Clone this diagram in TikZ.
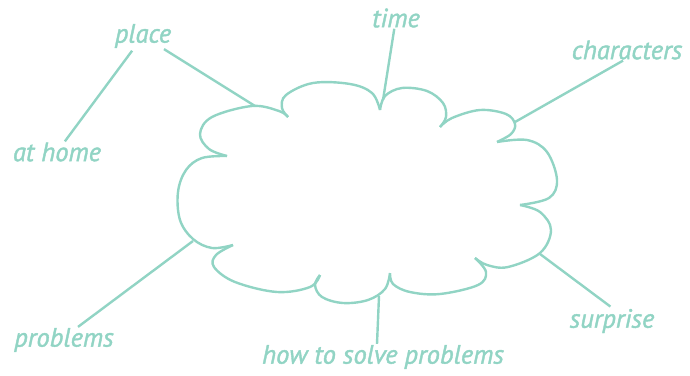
\documentclass[tikz,border=0pt]{standalone}
\usepackage{fontspec}
\setmainfont{PT Sans}
\newfontfamily\lblfont[ItalicFeatures={FakeBold=1.5}]{PT Sans}
\usetikzlibrary{positioning}

\definecolor{cloudc}{RGB}{145,212,196}

\tikzset{
  lbl/.style={text=cloudc, inner sep=1pt, font=\fontsize{26.5}{30}\lblfont\itshape},
  link/.style={draw=cloudc, line width=2.4pt},
  lobe/.style={draw=cloudc, line width=2.4pt, smooth, tension=0.6}
}

\begin{document}
\begin{tikzpicture}[x=1pt,y=-1pt]
\useasboundingbox (0,0) rectangle (690,375);

%cloud lobes, clockwise from the top one
\draw [lobe] plot coordinates {(288,117) (282,108) (286,95) (313,83) (350,84) (372,93) (380,110)};
\draw [lobe] plot coordinates {(380,110) (385,96) (402,88) (427,91) (443,103) (446,117) (440,127)};
\draw [lobe] plot coordinates {(440,127) (452,118) (480,110) (506,114) (515,124) (511,134) (497,142)};
\draw [lobe] plot coordinates {(497,142) (527,140) (547,152) (557,180) (549,198) (520,205)};
\draw [lobe] plot coordinates {(520,205) (540,212) (551,230) (540,253) (508,267) (487,265) (475,258)};
\draw [lobe] plot coordinates {(475,258) (486,272) (478,285) (440,294) (410,292) (393,284) (390,273)};
\draw [lobe] plot coordinates {(390,273) (385,289) (368,300) (343,303) (322,297) (315,285) (320,275)};
\draw [lobe] plot coordinates {(320,275) (310,287) (277,292) (235,282) (214,267) (216,255) (233,245)};
\draw [lobe] plot coordinates {(233,245) (212,248) (193,239) (180,220) (178,192) (186,170) (202,158) (227,156)};
\draw [lobe] plot coordinates {(227,156) (209,149) (200,134) (212,117) (252,106) (279,111) (288,117)};

%touch points on the cloud
\coordinate (c-place) at (255,106);
\coordinate (c-time) at (383,100);
\coordinate (c-characters) at (515,122);
\coordinate (c-surprise) at (540,254);
\coordinate (c-howto) at (379,296);
\coordinate (c-problems) at (193,241);

%labels
\node [lbl] (place) at (143,36) {place};
\node [lbl] (athome) at (57,152) {at home};
\node [lbl] (time) at (396,18) {time};
\node [lbl] (characters) at (627,50) {characters};
\node [lbl] (surprise) at (612,321) {surprise};
\node [lbl] (howto) at (383,357) {how to solve problems};
\node [lbl] (problems) at (64,340) {problems};

%connectors
\draw [link, shorten <=2pt] (place) -- (athome);
\draw [link] (place) -- (c-place);
\draw [link] (time) -- (c-time);
\draw [link] ([xshift=-4pt]characters.south) -- (c-characters);
\draw [link, shorten <=2pt] (surprise.north) -- (c-surprise);
\draw [link] ([xshift=-6pt]howto.north) -- (c-howto);
\draw [link] ([xshift=14pt]problems.north) -- (c-problems);

\end{tikzpicture}
\end{document}
